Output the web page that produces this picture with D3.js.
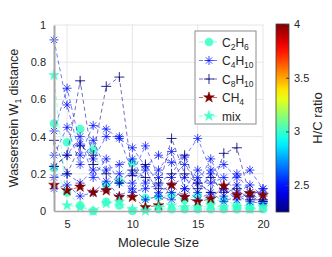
<!DOCTYPE html>
<html>
<head>
<meta charset="utf-8">
<script src="https://cdn.jsdelivr.net/npm/d3@7"></script>
<style>
  body { margin: 0; background: #fff; }
  text { font-family: "Liberation Sans", Arial, sans-serif; fill: #262626; }
</style>
</head>
<body>
<div id="chart"></div>
<script>
const sizes = [4, 5, 6, 7, 8, 9, 10, 11, 12, 13, 14, 15, 16, 17, 18, 19, 20];

// H/C ratio of each molecule (colour)
const hc = { C2H6: 3, C4H10: 2.5, C8H10: 1.25, CH4: 4, mix: 3 };

const c2h6 = [
  [0.47, 0.37, 0.44, 0.33, 0.14, 0.16, 0.26, 0.07, 0.075, 0.085, 0.06, 0.085, 0.05, 0.06, 0.03, 0.03, 0.04],
  [0.23, 0.10, 0.03, 0.00, 0.05, 0.03, 0.00, 0.01, 0.01, 0.01, 0.01, 0.01, 0.01, 0.01, 0.01, 0.01, 0.01]
];
const c4h10 = [
  [0.92, 0.57, 0.30, 0.46, 0.44, 0.39, 0.34, 0.24, 0.30, 0.26, 0.29, 0.39, 0.22, 0.25, 0.18, 0.22, 0.12],
  [0.43, 0.66, 0.36, 0.28, 0.40, 0.40, 0.20, 0.35, 0.18, 0.18, 0.25, 0.15, 0.28, 0.12, 0.20, 0.10, 0.10],
  [0.30, 0.45, 0.25, 0.38, 0.22, 0.25, 0.28, 0.15, 0.22, 0.32, 0.12, 0.22, 0.15, 0.18, 0.10, 0.14, 0.08],
  [0.24, 0.30, 0.40, 0.18, 0.28, 0.15, 0.15, 0.22, 0.10, 0.14, 0.18, 0.10, 0.20, 0.08, 0.14, 0.08, 0.12],
  [0.18, 0.20, 0.15, 0.22, 0.12, 0.20, 0.10, 0.12, 0.14, 0.10, 0.08, 0.18, 0.08, 0.12, 0.06, 0.10, 0.05],
  [0.12, 0.14, 0.08, 0.10, 0.16, 0.08, 0.12, 0.06, 0.08, 0.06, 0.12, 0.06, 0.10, 0.05, 0.08, 0.05, 0.04]
];
const c8h10 = [
  [0.24, 0.30, 0.70, 0.25, 0.20, 0.15, 0.22, 0.18, 0.12, 0.39, 0.20, 0.15, 0.10, 0.31, 0.34, 0.08, 0.05],
  [0.38, 0.20, 0.35, 0.30, 0.67, 0.72, 0.19, 0.25, 0.15, 0.20, 0.30, 0.12, 0.18, 0.10, 0.12, 0.06, 0.06]
];
const ch4 = [
  [0.14, 0.11, 0.13, 0.10, 0.11, 0.075, 0.075, 0.02, 0.03, 0.14, 0.075, 0.05, 0.065, 0.135, 0.085, 0.095, 0.085]
];
const mix = [
  [0.73, 0.03, 0.02, 0.00, 0.04, 0.05, 0.01, 0.00, 0.02, 0.03, 0.02, 0.02, 0.03, 0.02, 0.02, 0.01, 0.02]
];

const xTicks = [5, 10, 15, 20];
const yTicks = [0, 0.2, 0.4, 0.6, 0.8, 1];
const cTicks = [2.5, 3, 3.5, 4];

const width = 332, height = 257;
const margin = { top: 25, right: 69, bottom: 46, left: 54 };

const svg = d3.select('#chart').append('svg')
  .attr('width', width).attr('height', height);

const x = d3.scaleLinear().domain([4, 20]).range([margin.left, width - margin.right]);
const y = d3.scaleLinear().domain([0, 1]).range([height - margin.bottom, margin.top]);

// jet colormap
function jet(t) {
  const c = v => Math.round(255 * Math.max(0, Math.min(1, v)));
  return d3.rgb(c(1.5 - Math.abs(4 * t - 3)), c(1.5 - Math.abs(4 * t - 2)), c(1.5 - Math.abs(4 * t - 1))).toString();
}
const color = d3.scaleSequential(jet).domain([2.25, 4]).clamp(true);

// grid
svg.append('g').selectAll('line').data(xTicks).join('line')
  .attr('x1', d => x(d)).attr('x2', d => x(d))
  .attr('y1', y(0)).attr('y2', y(1) - 1)
  .attr('stroke', '#e6e6e6');
svg.append('g').selectAll('line').data(yTicks.slice(1)).join('line')
  .attr('x1', x(4)).attr('x2', x(20))
  .attr('y1', d => y(d)).attr('y2', d => y(d))
  .attr('stroke', '#e6e6e6');

// markers
function asterisk(s) {
  const a = s / 2, b = a * 0.7;
  return `M${-a},0H${a}M0,${-a}V${a}M${-b},${-b}L${b},${b}M${-b},${b}L${b},${-b}`;
}
function plus(s) {
  const a = s / 2;
  return `M${-a},0H${a}M0,${-a}V${a}`;
}
const star = d3.symbol().type(d3.symbolStar).size(36)();
const starMix = d3.symbol().type(d3.symbolStar).size(34)();

const groups = [
  { name: 'C2H6', label: ['C', '2', 'H', '6'], data: c2h6, kind: 'circle', op: 0.85 },
  { name: 'C4H10', label: ['C', '4', 'H', '10'], data: c4h10, kind: 'asterisk', op: 0.75 },
  { name: 'C8H10', label: ['C', '8', 'H', '10'], data: c8h10, kind: 'plus', op: 0.85 },
  { name: 'CH4', label: ['CH', '4'], data: ch4, kind: 'star', op: 1 },
  { name: 'mix', label: ['mix'], data: mix, kind: 'starMix', op: 0.9 }
];

function drawMarker(g, kind, col, op) {
  if (kind === 'circle') {
    g.append('circle').attr('r', 4.3).attr('fill', col).attr('opacity', op);
  } else if (kind === 'asterisk') {
    g.append('path').attr('d', asterisk(9)).attr('stroke', col).attr('stroke-width', 1).attr('fill', 'none').attr('opacity', op);
  } else if (kind === 'plus') {
    g.append('path').attr('d', plus(10)).attr('stroke', col).attr('stroke-width', 1).attr('fill', 'none').attr('opacity', op);
  } else if (kind === 'star') {
    g.append('path').attr('d', star).attr('fill', col).attr('stroke', col).attr('stroke-width', 0.5);
  } else {
    g.append('path').attr('d', starMix).attr('fill', col).attr('stroke', col).attr('stroke-width', 0.5).attr('opacity', op);
  }
}

const line = d3.line().x((d, i) => x(sizes[i])).y(d => y(d)).defined(d => d != null);
const plot = svg.append('g');

groups.forEach(gr => {
  const col = color(hc[gr.name]);
  gr.data.forEach(vals => {
    plot.append('path').datum(vals)
      .attr('d', line)
      .attr('fill', 'none')
      .attr('stroke', col)
      .attr('stroke-opacity', 0.7)
      .attr('stroke-width', 0.8)
      .attr('stroke-dasharray', '4,3');
    plot.append('g').selectAll('g').data(vals).join('g')
      .attr('transform', (d, i) => `translate(${x(sizes[i])},${y(d)})`)
      .each(function () { drawMarker(d3.select(this), gr.kind, col, gr.op); });
  });
});

// axes
const xAxis = svg.append('g')
  .attr('transform', `translate(0,${y(0)})`)
  .call(d3.axisBottom(x).tickValues(xTicks).tickSize(0).tickPadding(9));
xAxis.select('.domain').attr('stroke', '#a6a6a6').attr('stroke-width', 1.5);
xAxis.selectAll('text').attr('font-size', 11).attr('fill', '#262626').style('font-family', '"Liberation Sans", Arial, sans-serif');

const yAxis = svg.append('g')
  .attr('transform', `translate(${x(4)},0)`)
  .call(d3.axisLeft(y).tickValues(yTicks).tickFormat(d => d === 0 || d === 1 ? d : d3.format('.1f')(d)).tickSize(0).tickPadding(8));
yAxis.select('.domain').attr('stroke', '#a6a6a6').attr('stroke-width', 2);
yAxis.selectAll('text').attr('font-size', 11).attr('fill', '#262626').style('font-family', '"Liberation Sans", Arial, sans-serif');

svg.append('text')
  .attr('x', x(12)).attr('y', 247)
  .attr('text-anchor', 'middle').attr('font-size', 13)
  .text('Molecule Size');

const yl = svg.append('text')
  .attr('transform', `translate(18,${(y(0) + y(1)) / 2}) rotate(-90)`)
  .attr('text-anchor', 'middle').attr('font-size', 12.5);
yl.append('tspan').text('Wasserstein W');
yl.append('tspan').attr('font-size', 8.5).attr('dy', 3).text('1');
yl.append('tspan').attr('dy', -3).text(' distance');

// legend
const lg = svg.append('g').attr('transform', 'translate(195,31)');
lg.append('rect').attr('width', 61).attr('height', 93)
  .attr('fill', '#fff').attr('stroke', '#8c8c8c').attr('stroke-width', 1);
groups.forEach((gr, i) => {
  const col = color(hc[gr.name]);
  const row = lg.append('g').attr('transform', `translate(0,${11 + i * 18.5})`);
  row.append('line').attr('x1', 4).attr('x2', 24)
    .attr('stroke', col).attr('stroke-opacity', 0.7).attr('stroke-width', 0.8).attr('stroke-dasharray', '4,3');
  const m = row.append('g').attr('transform', 'translate(14,0)');
  drawMarker(m, gr.kind, col, gr.op);
  const t = row.append('text').attr('x', 27).attr('y', 4.5).attr('font-size', 12);
  gr.label.forEach((s, j) => {
    if (j % 2 === 1) t.append('tspan').attr('font-size', 8.5).attr('dy', 3).text(s);
    else t.append('tspan').attr('dy', j === 0 ? 0 : -3).text(s);
  });
});

// colorbar
const cy = d3.scaleLinear().domain([2.25, 4]).range([212, 24]);
const defs = svg.append('defs');
const grad = defs.append('linearGradient').attr('id', 'jet')
  .attr('x1', 0).attr('y1', 1).attr('x2', 0).attr('y2', 0);
grad.selectAll('stop').data(d3.range(0, 1.0001, 0.05)).join('stop')
  .attr('offset', d => d)
  .attr('stop-color', d => jet(d));
svg.append('rect')
  .attr('x', 276).attr('y', cy(4)).attr('width', 13).attr('height', cy(2.25) - cy(4))
  .attr('fill', 'url(#jet)').attr('stroke', '#404040').attr('stroke-width', 0.8);
const cAxis = svg.append('g')
  .attr('transform', 'translate(289,0)')
  .call(d3.axisRight(cy).tickValues(cTicks).tickFormat(d3.format('')).tickSize(-3).tickPadding(5));
cAxis.select('.domain').remove();
cAxis.selectAll('line').attr('stroke', '#404040');
cAxis.selectAll('text').attr('font-size', 11).attr('fill', '#262626').style('font-family', '"Liberation Sans", Arial, sans-serif');
svg.append('text')
  .attr('transform', `translate(322,${(cy(4) + cy(2.25)) / 2}) rotate(-90)`)
  .attr('text-anchor', 'middle').attr('font-size', 13)
  .text('H/C ratio');
</script>
</body>
</html>
